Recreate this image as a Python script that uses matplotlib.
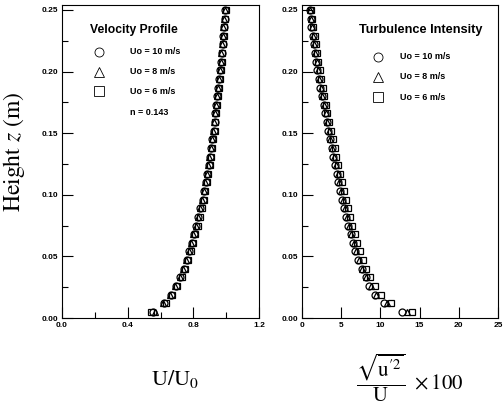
import matplotlib
matplotlib.use('Agg')
import matplotlib.pyplot as plt
from matplotlib.ticker import MultipleLocator

plt.rcParams['mathtext.fontset'] = 'stix'

# heights (m) of the measurement points
z = [0.005, 0.012, 0.019, 0.026, 0.033, 0.040, 0.047, 0.054, 0.061, 0.068,
     0.075, 0.082, 0.089, 0.096, 0.103, 0.110, 0.117, 0.124, 0.131, 0.138,
     0.145, 0.152, 0.159, 0.166, 0.173, 0.180, 0.187, 0.194, 0.201, 0.208,
     0.215, 0.222, 0.229, 0.236, 0.243, 0.250]

# velocity profile U/U0
vel_10 = [0.555, 0.622, 0.664, 0.694, 0.721, 0.742, 0.760, 0.776, 0.791, 0.806,
          0.818, 0.830, 0.843, 0.856, 0.866, 0.876, 0.885, 0.894, 0.902, 0.909,
          0.916, 0.923, 0.929, 0.935, 0.941, 0.947, 0.953, 0.958, 0.964, 0.969,
          0.973, 0.978, 0.982, 0.986, 0.990, 0.994]
vel_8 = [0.565, 0.615, 0.658, 0.690, 0.716, 0.737, 0.756, 0.772, 0.788, 0.801,
         0.814, 0.827, 0.839, 0.851, 0.862, 0.872, 0.881, 0.890, 0.898, 0.906,
         0.913, 0.920, 0.926, 0.932, 0.938, 0.944, 0.950, 0.955, 0.961, 0.966,
         0.970, 0.975, 0.979, 0.983, 0.987, 0.991]
vel_6 = [0.545, 0.632, 0.672, 0.703, 0.729, 0.750, 0.768, 0.784, 0.800, 0.813,
         0.826, 0.838, 0.850, 0.862, 0.873, 0.883, 0.892, 0.900, 0.908, 0.915,
         0.922, 0.929, 0.935, 0.941, 0.947, 0.952, 0.958, 0.963, 0.968, 0.973,
         0.977, 0.981, 0.985, 0.989, 0.993, 0.997]

# turbulence intensity (%)
ti_10 = [12.8, 10.4, 9.3, 8.6, 8.1, 7.6, 7.2, 6.8, 6.5, 6.2,
         5.9, 5.65, 5.4, 5.15, 4.9, 4.65, 4.45, 4.25, 4.0, 3.8,
         3.55, 3.35, 3.15, 2.95, 2.75, 2.55, 2.35, 2.15, 1.95, 1.8,
         1.65, 1.5, 1.35, 1.2, 1.1, 1.0]
ti_8 = [13.4, 10.8, 9.5, 8.8, 8.2, 7.7, 7.3, 6.9, 6.6, 6.3,
        6.0, 5.75, 5.5, 5.25, 5.0, 4.75, 4.55, 4.3, 4.1, 3.85,
        3.6, 3.4, 3.2, 3.0, 2.8, 2.6, 2.4, 2.2, 2.0, 1.85,
        1.7, 1.55, 1.4, 1.25, 1.15, 1.05]
ti_6 = [14.0, 11.3, 10.1, 9.3, 8.7, 8.2, 7.8, 7.4, 7.0, 6.7,
        6.4, 6.1, 5.85, 5.6, 5.35, 5.1, 4.85, 4.6, 4.4, 4.15,
        3.9, 3.7, 3.45, 3.25, 3.05, 2.85, 2.65, 2.45, 2.25, 2.05,
        1.9, 1.75, 1.6, 1.45, 1.3, 1.2]

labels = ['Uo = 10 m/s', 'Uo = 8 m/s', 'Uo = 6 m/s']
markers = ['o', '^', 's']

fig = plt.figure(figsize=(5.04, 4.11), dpi=100)
ax1 = fig.add_axes([62/504, 93/411, 197/504, 313/411])
ax2 = fig.add_axes([302/504, 93/411, 196/504, 313/411])

tick_font = dict(family='Liberation Sans', size=6, weight='bold')

for ax, series in [(ax1, [vel_10, vel_8, vel_6]), (ax2, [ti_10, ti_8, ti_6])]:
    for vals, m in zip(series, markers):
        ax.plot(vals, z, linestyle='none', marker=m, markersize=5,
                markerfacecolor='none', markeredgecolor='black', markeredgewidth=0.9)
    ax.set_ylim(0, 0.254)
    ax.yaxis.set_minor_locator(MultipleLocator(0.025))
    ax.tick_params(which='both', direction='in', top=False, right=False, width=0.8, pad=3)
    ax.tick_params(which='major', length=8)
    ax.tick_params(which='minor', length=4)
    for sp in ax.spines.values():
        sp.set_linewidth(0.8)
    ax.set_yticks([0.0, 0.05, 0.10, 0.15, 0.20, 0.25])
    ax.set_yticklabels(['0.00', '0.05', '0.10', '0.15', '0.20', '0.25'], **tick_font)

ax1.set_xlim(0, 1.2)
ax1.xaxis.set_minor_locator(MultipleLocator(0.2))
ax1.set_xticks([0.0, 0.4, 0.8, 1.2])
ax1.set_xticklabels(['0.0', '0.4', '0.8', '1.2'], **tick_font)

ax2.set_xlim(0, 25)
ax2.set_xticks([0, 5, 10, 15, 20, 25])
ax2.set_xticklabels(['0', '5', '10', '15', '20', '25'], **tick_font)

# legend-like annotations drawn in axes fraction
leg_font = dict(family='Liberation Sans', size=6.5, weight='bold')

ax1.text(0.14, 0.92, 'Velocity Profile', transform=ax1.transAxes, ha='left', va='center',
         family='Liberation Sans', size=8.7, weight='bold')
ax2.text(0.29, 0.92, 'Turbulence Intensity', transform=ax2.transAxes, ha='left', va='center',
         family='Liberation Sans', size=9.2, weight='bold')

for ax, mx, tx, rows in [(ax1, 0.19, 0.345, [0.850, 0.786, 0.725]),
                         (ax2, 0.388, 0.50, [0.834, 0.770, 0.706])]:
    for yy, m, lab in zip(rows, markers, labels):
        ax.plot([mx], [yy], transform=ax.transAxes, linestyle='none', marker=m,
                markersize=6.5, markerfacecolor='none', markeredgecolor='black',
                markeredgewidth=0.6)
        ax.text(tx, yy, lab, transform=ax.transAxes, ha='left', va='center', **leg_font)
ax1.text(0.345, 0.658, 'n = 0.143', transform=ax1.transAxes, ha='left', va='center', **leg_font)

# axis titles in serif
fig.text(14/504, 1 - 152/411, r'Height $z$ (m)', rotation=90, ha='center', va='center',
         family='STIXGeneral', size=17)
fig.text(175/504, 1 - 379/411, r'$\mathrm{U/U_0}$', ha='center', va='center', size=16)
fig.text(410/504, 1 - 378/411, r'$\dfrac{\sqrt{\overline{\mathrm{u}^{\prime 2}}}}{\mathrm{U}}\ \times 100$',
         ha='center', va='center', size=15)

fig.savefig('out.png', dpi=100)
